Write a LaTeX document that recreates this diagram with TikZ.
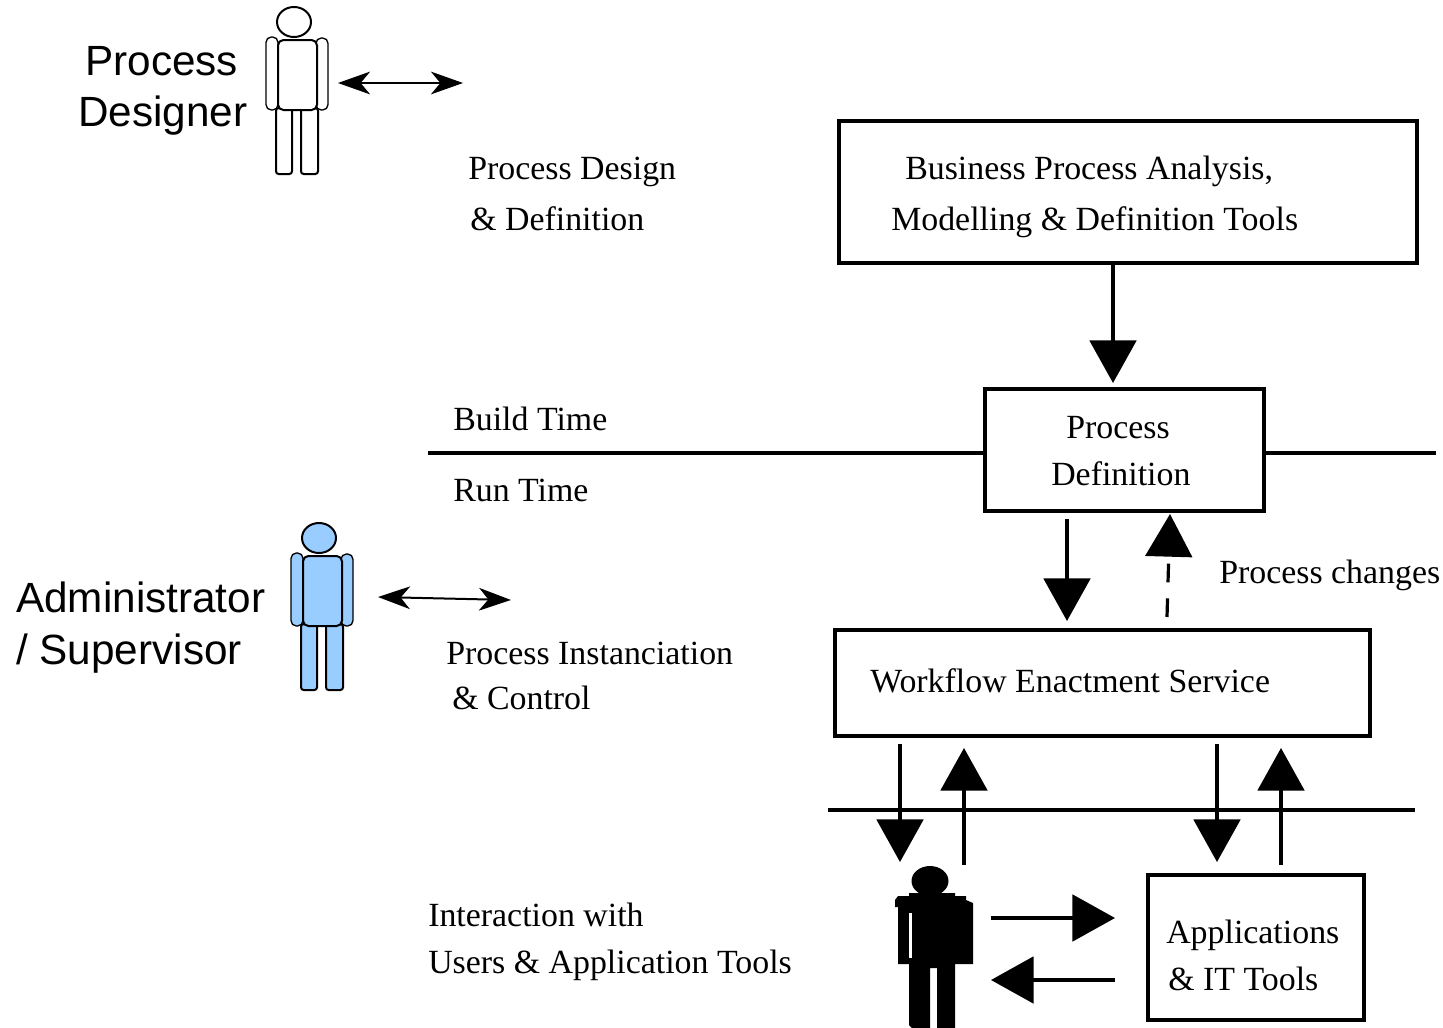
\documentclass[tikz,border=0pt]{standalone}
\usepackage{fontspec}
\setmainfont{Liberation Serif}
\newfontfamily\labelsans{Liberation Sans}
\usetikzlibrary{arrows.meta,calc}
\definecolor{figblue}{RGB}{153,204,255}
\tikzset{
  x=0.75pt,y=-0.75pt,
  thinrule/.style={line width=2.3pt,line cap=butt},
  boxnode/.style={draw,line width=2.4pt,inner sep=0pt,outer sep=0pt,anchor=north west},
  serif/.style={anchor=base west,inner sep=0pt,font=\fontsize{25.4}{25.4}\selectfont},
  sans/.style={anchor=base west,inner sep=0pt,font=\labelsans\fontsize{31.7}{31.7}\selectfont},
  bigarrow/.style={line width=2.4pt,-{Triangle[length=32pt,width=35pt]}},
  dasharrow/.style={bigarrow,dash pattern=on 14pt off 12pt},
  twoway/.style={line width=1.5pt,{Stealth[length=24pt,width=17pt,inset=7pt]}-{Stealth[length=24pt,width=17pt,inset=7pt]}},
  pics/figure/.style={code={
    \draw[line width=1.5pt,fill=#1,rounded corners=2pt] (-18,86) -- (-18,152) -- (-2,152) -- (-2,86) -- cycle;
    \draw[line width=1.5pt,fill=#1,rounded corners=2pt] (7,86) -- (7,152) -- (24,152) -- (24,86) -- cycle;
    \draw[line width=1pt,fill=#1,rounded corners=4pt] (-28,15) rectangle (-16,88);
    \draw[line width=1pt,fill=#1,rounded corners=4pt] (22,16) rectangle (34,88);
    \draw[line width=1.5pt,fill=#1,rounded corners=4pt] (-16,18) rectangle (23,88);
    \draw[line width=1.5pt,fill=#1] (0,0) ellipse [x radius=17,y radius=15];
  }}
}
\begin{document}
\begin{tikzpicture}
\useasboundingbox (0,0) rectangle (1443,1028);

% boxes
\node[boxnode,minimum width=433.5pt,minimum height=106.5pt] (bpa) at (839,121) {};
\node[boxnode,minimum width=209.25pt,minimum height=91.5pt] (pd) at (985,389) {};
\node[boxnode,minimum width=401.25pt,minimum height=79.5pt] (wes) at (835,630) {};
\node[boxnode,minimum width=162pt,minimum height=108.75pt] (app) at (1148,875) {};

% free ends
\coordinate (ruleAl) at (428,453);
\coordinate (ruleAr) at (1436,453);
\coordinate (ruleBl) at (828,810);
\coordinate (ruleBr) at (1415,810);
\coordinate (a1s) at (1113,263);
\coordinate (a1e) at (1113,383);
\coordinate (a2s) at (1067,519);
\coordinate (a2e) at (1067,621);
\coordinate (a3s) at (1167,617);
\coordinate (a3e) at (1170,514);
\coordinate (a4s) at (900,744);
\coordinate (a4e) at (900,862);
\coordinate (a5s) at (964,865);
\coordinate (a5e) at (964,748);
\coordinate (a6s) at (1217,744);
\coordinate (a6e) at (1217,862);
\coordinate (a7s) at (1281,865);
\coordinate (a7e) at (1281,748);
\coordinate (a8s) at (991,918);
\coordinate (a8e) at (1115,918);
\coordinate (a9s) at (1115,980);
\coordinate (a9e) at (991,980);
\coordinate (b1s) at (338,83);
\coordinate (b1e) at (463,83);
\coordinate (b2s) at (378,597);
\coordinate (b2e) at (511,600);

% rules
\draw[thinrule] (ruleAl) -- (pd.west |- ruleAl);
\draw[thinrule] (pd.east |- ruleAr) -- (ruleAr);
\draw[thinrule] (ruleBl) -- (ruleBr);

% arrows
\draw[bigarrow] (a1s) -- (a1e);
\draw[bigarrow] (a2s) -- (a2e);
\draw[dasharrow] (a3s) -- (a3e);
\draw[bigarrow] (a4s) -- (a4e);
\draw[bigarrow] (a5s) -- (a5e);
\draw[bigarrow] (a6s) -- (a6e);
\draw[bigarrow] (a7s) -- (a7e);
\draw[bigarrow] (a8s) -- (a8e);
\draw[bigarrow] (a9s) -- (a9e);
\draw[twoway] (b1s) -- (b1e);
\draw[twoway] (b2s) -- (b2e);

% figures
\pic at (294,22) {figure=white};
\pic at (319,538) {figure=figblue};
% black figure
\fill (930,881) ellipse [x radius=18.5,y radius=15];
\fill (923,888) rectangle (938,895);
\fill (909,893) -- (955,893) -- (955,896) -- (966,896) -- (966,900) -- (973,903) -- (973,964) -- (955,964) -- (955,1028) -- (937,1028) -- (937,968) -- (930,968) -- (930,1028) -- (912,1028) -- (909,1025) -- (909,964) -- (898,964) -- (898,907) -- (895,907) -- (895,900) -- (898,896) -- (909,896) -- cycle;
\fill[white] (909,913) rectangle (912,958);

% text
\node[sans] (t1) at (85,75) {Process};
\node[sans] (t2) at (78,126) {Designer};
\node[sans] (t3) at (16,612) {Administrator};
\node[sans] (t4) at (16,664) {/ Supervisor};
\node[serif] (t5) at (468,179.5) {Process Design};
\node[serif] (t6) at (470,230.5) {\& Definition};
\node[serif] (t7) at (905,179.5) {Business Process Analysis,};
\node[serif] (t8) at (891,230.5) {Modelling \& Definition Tools};
\node[serif] (t9) at (453,430.5) {Build Time};
\node[serif] (t10) at (453,501.5) {Run Time};
\node[serif] (t11) at (1066,438) {Process};
\node[serif] (t12) at (1051,485) {Definition};
\node[serif] (t13) at (1219,583.5) {Process changes};
\node[serif] (t14) at (870,692) {Workflow Enactment Service};
\node[serif] (t15) at (446,664.5) {Process Instanciation};
\node[serif] (t16) at (452,709.5) {\& Control};
\node[serif] (t17) at (428,926.5) {Interaction with};
\node[serif] (t18) at (428,973.5) {Users \& Application Tools};
\node[serif] (t19) at (1166,943.5) {Applications};
\node[serif] (t20) at (1168,990.5) {\& IT Tools};
\end{tikzpicture}
\end{document}
